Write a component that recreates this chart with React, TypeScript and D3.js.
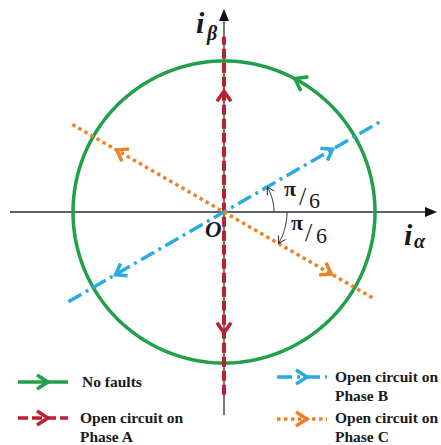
import React from "react";
import * as d3 from "d3";

// Current-vector trajectories in the αβ plane (unit = healthy amplitude)
const phaseNames = ["A", "B", "C"];
const phaseAngles = [90, 30, -30]; // degrees, orientation of each fault line
const phaseReachPos = [1.16, 1.19, 1.16]; // extent along +direction
const phaseReachNeg = [1.21, 1.19, 1.16]; // extent along -direction
const phaseArrowAt = [0.8, 0.83, 0.82]; // arrow positions along the line
const phaseColors = ["#be1e2d", "#29abe2", "#f07f26"];
const phaseDashes = ["10 4", "15 5 3 5", "3.5 3.5"];
const healthyArrowAngle = 62; // degrees, arrow on the circle
const legendLabels = [
  ["No faults"],
  ["Open circuit on", "Phase A"],
  ["Open circuit on", "Phase B"],
  ["Open circuit on", "Phase C"],
];

const W = 441;
const H = 445;
const cx = 224;
const cy = 212;
const R = 151;

const x = d3.scaleLinear().domain([-1, 1]).range([cx - R, cx + R]);
const y = d3.scaleLinear().domain([-1, 1]).range([cy + R, cy - R]);

const rad = (deg: number) => (deg * Math.PI) / 180;

// Open chevron arrowhead with tip at (tx, ty) pointing along (dx, dy) in screen space
function chevron(tx: number, ty: number, dx: number, dy: number, len = 10, half = 7) {
  const n = Math.hypot(dx, dy);
  const ux = dx / n;
  const uy = dy / n;
  const px = -uy;
  const py = ux;
  const bx = tx - ux * len;
  const by = ty - uy * len;
  return `M${bx + px * half},${by + py * half}L${tx},${ty}L${bx - px * half},${by - py * half}`;
}

export default function App() {
  const line = d3.line<[number, number]>().x((d) => x(d[0])).y((d) => y(d[1]));
  const green = "#21a04a";
  const axisColor = "#2b2e3a";
  const serif = "'Liberation Serif', 'Times New Roman', serif";

  const circlePts: [number, number][] = d3.range(0, 361, 2).map((a) => [Math.cos(rad(a)), Math.sin(rad(a))]);

  const ga = rad(healthyArrowAngle);
  const gTip: [number, number] = [x(Math.cos(ga)), y(Math.sin(ga))];

  // small angle arcs between the α axis and the B / C lines
  const arcB = d3.range(0, 31, 1).map((a) => [cx + 50 * Math.cos(rad(a)), cy - 50 * Math.sin(rad(a))] as [number, number]);
  const arcC = d3.range(0, 31, 1).map((a) => [cx + 63 * Math.cos(rad(a)), cy + 63 * Math.sin(rad(a))] as [number, number]);
  const rawLine = d3.line();

  const legendItems = [
    { color: green, dash: null as string | null, x0: 18, yy: 382, tx: 82, ty: 387 },
    { color: phaseColors[0], dash: phaseDashes[0], x0: 18, yy: 418, tx: 80, ty: 423 },
    { color: phaseColors[1], dash: phaseDashes[1], x0: 277, yy: 377, tx: 335, ty: 382 },
    { color: phaseColors[2], dash: phaseDashes[2], x0: 277, yy: 419, tx: 335, ty: 423 },
  ];

  return (
    <svg width={W} height={H} style={{ position: "absolute", left: 0, top: 0, background: "#fff" }}>
      {/* axes */}
      <line x1={10} y1={cy} x2={428} y2={cy} stroke={axisColor} strokeWidth={1.3} />
      <path d={`M437,${cy}L425,${cy - 5}L425,${cy + 5}Z`} fill="#111" />
      <line x1={cx} y1={415} x2={cx} y2={18} stroke={axisColor} strokeWidth={1.3} />
      <path d={`M${cx},9L${cx - 5},21L${cx + 5},21Z`} fill="#111" />

      {/* healthy circle */}
      <path d={line(circlePts) ?? ""} fill="none" stroke={green} strokeWidth={3.5} />
      <path
        d={chevron(gTip[0], gTip[1], -Math.sin(ga), -Math.cos(ga), 11, 8)}
        fill="none"
        stroke={green}
        strokeWidth={3.5}
        strokeLinejoin="miter"
      />

      {/* open-circuit trajectories */}
      {phaseNames.map((name, i) => {
        const a = rad(phaseAngles[i]);
        const c = Math.cos(a);
        const s = Math.sin(a);
        const pts: [number, number][] = [
          [-phaseReachNeg[i] * c, -phaseReachNeg[i] * s],
          [phaseReachPos[i] * c, phaseReachPos[i] * s],
        ];
        const k = phaseArrowAt[i];
        const sdx = x(c) - x(0);
        const sdy = y(s) - y(0);
        return (
          <g key={name}>
            <path
              d={line(pts) ?? ""}
              fill="none"
              stroke={phaseColors[i]}
              strokeWidth={i === 0 ? 4 : 3.5}
              strokeDasharray={phaseDashes[i]}
            />
            <path
              d={chevron(x(k * c), y(k * s), sdx, sdy, 10, 7)}
              fill="none"
              stroke={phaseColors[i]}
              strokeWidth={3.5}
            />
            <path
              d={chevron(x(-k * c), y(-k * s), -sdx, -sdy, 10, 7)}
              fill="none"
              stroke={phaseColors[i]}
              strokeWidth={3.5}
            />
          </g>
        );
      })}

      {/* angle markers */}
      <path d={rawLine(arcB) ?? ""} fill="none" stroke="#222" strokeWidth={1} />
      <path d={chevron(arcB[30][0], arcB[30][1], -Math.sin(rad(30)), -Math.cos(rad(30)), 7, 4)} fill="none" stroke="#222" strokeWidth={1} />
      <path d={rawLine(arcC) ?? ""} fill="none" stroke="#222" strokeWidth={1} />
      <path d={chevron(arcC[30][0], arcC[30][1], -Math.sin(rad(30)), Math.cos(rad(30)), 7, 4)} fill="none" stroke="#222" strokeWidth={1} />

      <g fontFamily={serif} fill="#1a1a1a">
        <text x={284} y={196} fontSize={22} fontWeight="bold">π</text>
        <text x={299} y={205} fontSize={26}>/</text>
        <text x={309} y={208} fontSize={22}>6</text>
        <text x={291} y={230} fontSize={22} fontWeight="bold">π</text>
        <text x={305} y={241} fontSize={26}>/</text>
        <text x={316} y={243} fontSize={22}>6</text>
      </g>

      {/* axis labels */}
      <g fontFamily={serif} fontWeight="bold" fontStyle="italic" fill="#1a1a1a">
        <text x={196} y={33} fontSize={30}>i</text>
        <text x={207} y={40} fontSize={20}>β</text>
        <text x={404} y={245} fontSize={30}>i</text>
        <text x={414} y={248} fontSize={20}>α</text>
        <text x={205} y={237} fontSize={23}>O</text>
      </g>

      {/* legend */}
      {legendItems.map((it, i) => (
        <g key={i}>
          <line
            x1={it.x0}
            y1={it.yy}
            x2={it.x0 + 50}
            y2={it.yy}
            stroke={it.color}
            strokeWidth={3.5}
            strokeDasharray={it.dash ?? undefined}
          />
          <path d={chevron(it.x0 + 30, it.yy, 1, 0, 11, 7)} fill="none" stroke={it.color} strokeWidth={3.5} />
          {legendLabels[i].map((t, j) => (
            <text
              key={j}
              x={it.tx}
              y={it.ty + j * 19}
              fontFamily={serif}
              fontWeight="bold"
              fontSize={15.5}
              fill="#1a1a1a"
            >
              {t}
            </text>
          ))}
        </g>
      ))}
    </svg>
  );
}
